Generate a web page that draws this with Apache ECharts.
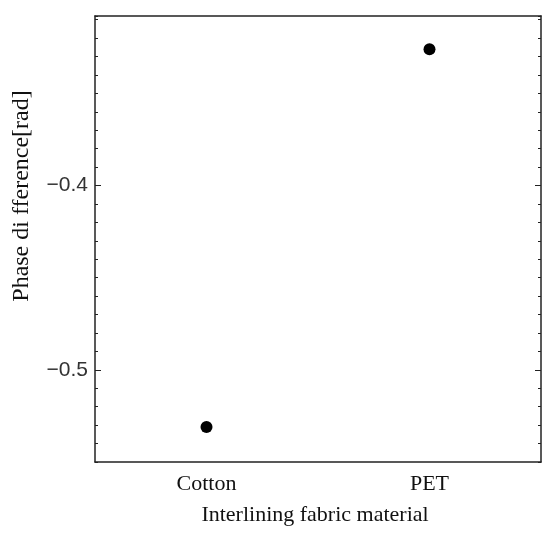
<!DOCTYPE html>
<html>
<head>
<meta charset="utf-8">
<script src="https://cdn.jsdelivr.net/npm/echarts@6/dist/echarts.min.js"></script>
<style>
  html, body { margin: 0; padding: 0; background: #fff; }
  #chart { width: 550px; height: 535px; }
</style>
</head>
<body>
<div id="chart"></div>
<script>
  // materials on the x axis
  const materials = ['Cotton', 'PET']
  // phase difference
  const phaseDiff = [-0.531, -0.326]
  // y axis range and labelled ticks
  const yMin = -0.55
  const yMax = -0.308
  const yLabels = [-0.5, -0.4]

  const axisColor = '#222'
  const serif = '"Liberation Serif", "Times New Roman", serif'
  const sans = '"Liberation Sans", Arial, sans-serif'

  const chart = echarts.init(document.getElementById('chart'))

  const isLabelled = (v) => yLabels.some(l => Math.abs(l - v) < 1e-6)

  // extra axis only for the longer major ticks
  const majorTickAxis = (pos) => ({
    type: 'value',
    position: pos,
    min: yMin,
    max: yMax,
    axisLine: { show: false },
    axisTick: { show: true, inside: true, length: 6, customValues: yLabels, lineStyle: { color: axisColor } },
    axisLabel: { show: false },
    splitLine: { show: false }
  })

  const option = {
    animation: false,
    grid: { left: 95, right: 9, top: 16, bottom: 73 },
    xAxis: [
      {
        type: 'category',
        data: materials,
        position: 'bottom',
        boundaryGap: true,
        name: 'Interlining fabric material',
        nameLocation: 'middle',
        nameGap: 42,
        nameTextStyle: { fontFamily: serif, fontSize: 22, color: '#111', padding: [0, 6, 0, 0] },
        axisLine: { lineStyle: { color: axisColor, width: 1.5 } },
        axisTick: { inside: true, alignWithLabel: true, length: 3, lineStyle: { color: axisColor } },
        axisLabel: { margin: 11, fontFamily: serif, fontSize: 22, color: '#111' },
        splitLine: { show: false }
      },
      {
        type: 'category',
        data: materials,
        position: 'top',
        boundaryGap: true,
        axisLine: { lineStyle: { color: axisColor, width: 1.5 } },
        axisTick: { inside: true, alignWithLabel: true, length: 3, lineStyle: { color: axisColor } },
        axisLabel: { show: false },
        splitLine: { show: false }
      }
    ],
    yAxis: [
      {
        type: 'value',
        position: 'left',
        min: yMin,
        max: yMax,
        interval: 0.01,
        name: 'Phase di fference[rad]',
        nameLocation: 'middle',
        nameRotate: 90,
        nameGap: 61,
        nameTextStyle: { fontFamily: serif, fontSize: 24, color: '#111', padding: [0, 0, 0, 86] },
        axisLine: { show: true, lineStyle: { color: axisColor, width: 1.5 } },
        axisTick: { show: true, inside: true, length: 3, lineStyle: { color: axisColor } },
        axisLabel: {
          margin: 7,
          fontFamily: sans,
          fontSize: 21,
          color: '#333',
          formatter: (v) => isLabelled(v) ? v.toFixed(1).replace('-', '\u2212') : ''
        },
        splitLine: { show: false }
      },
      {
        type: 'value',
        position: 'right',
        min: yMin,
        max: yMax,
        interval: 0.01,
        axisLine: { show: true, lineStyle: { color: axisColor, width: 1.5 } },
        axisTick: { show: true, inside: true, length: 3, lineStyle: { color: axisColor } },
        axisLabel: { show: false },
        splitLine: { show: false }
      },
      majorTickAxis('left'),
      majorTickAxis('right')
    ],
    series: [
      {
        type: 'scatter',
        xAxisIndex: 0,
        yAxisIndex: 0,
        data: phaseDiff,
        symbol: 'circle',
        symbolSize: 12,
        itemStyle: { color: '#000', opacity: 1 }
      }
    ]
  }

  chart.setOption(option)
</script>
</body>
</html>
